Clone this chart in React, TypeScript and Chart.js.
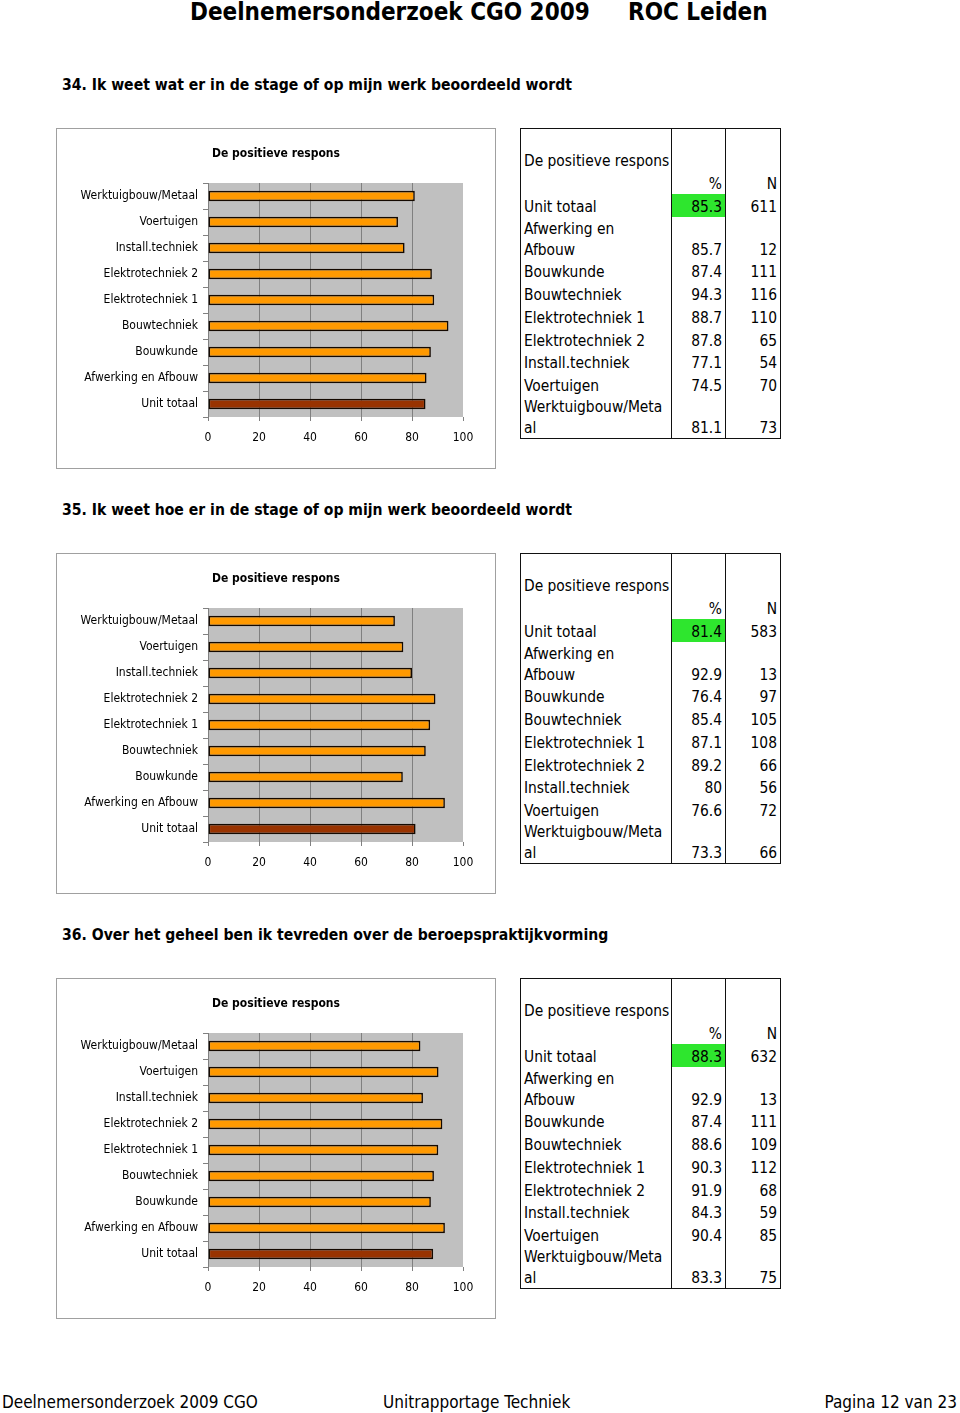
import React, { useEffect, useRef } from "react";
import { Chart, registerables } from "chart.js";

Chart.register(...registerables);

const FONT = '"DejaVu Sans Condensed", "DejaVu Sans", sans-serif';

// Categories in table order (top to bottom)
const categories = [
  "Unit totaal",
  "Afwerking en Afbouw",
  "Bouwkunde",
  "Bouwtechniek",
  "Elektrotechniek 1",
  "Elektrotechniek 2",
  "Install.techniek",
  "Voertuigen",
  "Werktuigbouw/Metaal",
];
const tableLabels = [
  "Unit totaal",
  "Afwerking en\nAfbouw",
  "Bouwkunde",
  "Bouwtechniek",
  "Elektrotechniek 1",
  "Elektrotechniek 2",
  "Install.techniek",
  "Voertuigen",
  "Werktuigbouw/Meta\nal",
];

const q34Pct = [85.3, 85.7, 87.4, 94.3, 88.7, 87.8, 77.1, 74.5, 81.1];
const q34N = [611, 12, 111, 116, 110, 65, 54, 70, 73];
const q35Pct = [81.4, 92.9, 76.4, 85.4, 87.1, 89.2, 80, 76.6, 73.3];
const q35N = [583, 13, 97, 105, 108, 66, 56, 72, 66];
const q36Pct = [88.3, 92.9, 87.4, 88.6, 90.3, 91.9, 84.3, 90.4, 83.3];
const q36N = [632, 13, 111, 109, 112, 68, 59, 85, 75];

const xTicks = [0, 20, 40, 60, 80, 100];
const chartTitle = "De positieve respons";

const sections = [
  { title: "34. Ik weet wat er in de stage of op mijn werk beoordeeld wordt", pct: q34Pct, n: q34N },
  { title: "35. Ik weet hoe er in de stage of op mijn werk beoordeeld wordt", pct: q35Pct, n: q35N },
  { title: "36. Over het geheel ben ik tevreden over de beroepspraktijkvorming", pct: q36Pct, n: q36N },
];

const SECTION_STEP = 425;
const ROW_HEIGHTS = [42, 23, 23, 43, 22, 23, 23, 23, 22, 23, 42];

const plotBg = {
  id: "plotBg",
  beforeDraw(chart: any) {
    const { ctx, chartArea: a } = chart;
    ctx.save();
    ctx.fillStyle = "#c0c0c0";
    ctx.fillRect(a.left, a.top, a.right - a.left, a.bottom - a.top);
    ctx.restore();
  },
};

// Title centred on the whole canvas (the built-in title is centred on the padded box)
const centredTitle = {
  id: "centredTitle",
  afterDraw(chart: any, _args: any, opts: any) {
    const { ctx } = chart;
    ctx.save();
    ctx.font = `bold 12px ${FONT}`;
    ctx.fillStyle = "#000";
    ctx.textAlign = "center";
    ctx.textBaseline = "middle";
    ctx.fillText(opts.text, chart.width / 2, opts.y);
    ctx.restore();
  },
};

function BarChart({ pct }: { pct: number[] }) {
  const ref = useRef<HTMLCanvasElement | null>(null);
  useEffect(() => {
    if (!ref.current) return;
    const labels = [...categories].reverse();
    const data = [...pct].reverse();
    const colors = labels.map((l) => (l === "Unit totaal" ? "#993300" : "#ff9900"));
    const chart = new Chart(ref.current, {
      type: "bar",
      data: {
        labels,
        datasets: [
          {
            data,
            backgroundColor: colors,
            borderColor: "#140900",
            borderWidth: 1.6,
            borderSkipped: false,
            barPercentage: 0.4,
            categoryPercentage: 1,
          },
        ],
      },
      options: {
        indexAxis: "y",
        responsive: false,
        maintainAspectRatio: false,
        animation: false,
        layout: { padding: { left: 0, right: 32, top: 54, bottom: 12.6 } },
        plugins: {
          legend: { display: false },
          tooltip: { enabled: false },
          title: { display: false },
          centredTitle: { text: chartTitle, y: 24.5 },
        },
        scales: {
          x: {
            min: 0,
            max: 100,
            afterBuildTicks(scale: any) {
              scale.ticks = xTicks.map((v) => ({ value: v }));
            },
            ticks: { color: "#000", font: { family: FONT, size: 12 }, padding: 10 },
            grid: {
              color: (c: any) => (c.tick && c.tick.value === 100 ? "rgba(0,0,0,0)" : "#808080"),
              tickColor: "#808080",
              tickLength: 4,
              lineWidth: 1,
            },
            border: { display: false },
          },
          y: {
            afterFit(scale: any) {
              scale.width = 151;
            },
            ticks: { color: "#000", font: { family: FONT, size: 12 }, padding: 5 },
            grid: {
              drawOnChartArea: false,
              color: "#808080",
              tickLength: 5,
              offset: true,
            },
            border: { color: "#808080", width: 1 },
          },
        },
      },
      plugins: [plotBg, centredTitle],
    } as any);
    return () => chart.destroy();
  }, [pct]);
  return <canvas ref={ref} width={438} height={339} style={{ display: "block" }} />;
}

function DataTable({ pct, n }: { pct: number[]; n: number[] }) {
  const cell: React.CSSProperties = {
    verticalAlign: "bottom",
    padding: "0 3px",
    lineHeight: "21px",
    whiteSpace: "pre",
    overflow: "hidden",
  };
  const shift: React.CSSProperties = { position: "relative", top: 1 };
  const rows: { label: string; p: string; nn: string; green?: boolean }[] = [
    { label: chartTitle, p: "", nn: "" },
    { label: "", p: "%", nn: "N" },
    ...tableLabels.map((l, i) => ({ label: l, p: String(pct[i]), nn: String(n[i]), green: i === 0 })),
  ];
  return (
    <table
      style={{
        borderCollapse: "collapse",
        tableLayout: "fixed",
        width: 261,
        fontFamily: FONT,
        fontSize: 15.4,
        color: "#000",
        border: "1.5px solid #111",
      }}
    >
      <colgroup>
        <col style={{ width: 151 }} />
        <col style={{ width: 54 }} />
        <col style={{ width: 55 }} />
      </colgroup>
      <tbody>
        {rows.map((r, i) => (
          <tr key={i} style={{ height: ROW_HEIGHTS[i] }}>
            <td style={{ ...cell, textAlign: "left", borderRight: "1.5px solid #111" }}>
              <span style={shift}>{r.label}</span>
            </td>
            <td
              style={{
                ...cell,
                textAlign: "right",
                borderRight: "1.5px solid #111",
                background: r.green ? "#2ee62e" : "transparent",
              }}
            >
              <span style={shift}>{r.p}</span>
            </td>
            <td style={{ ...cell, textAlign: "right" }}>
              <span style={shift}>{r.nn}</span>
            </td>
          </tr>
        ))}
      </tbody>
    </table>
  );
}

const headerStyle: React.CSSProperties = {
  position: "absolute",
  top: -3,
  fontSize: 24,
  fontWeight: "bold",
  whiteSpace: "pre",
  lineHeight: "30px",
};
const footerStyle: React.CSSProperties = {
  position: "absolute",
  top: 1391,
  fontSize: 17,
  lineHeight: "22px",
  whiteSpace: "pre",
};

export default function App() {
  return (
    <div
      style={{
        position: "absolute",
        left: 0,
        top: 0,
        width: 960,
        height: 1413,
        background: "#fff",
        fontFamily: FONT,
        color: "#000",
        overflow: "hidden",
      }}
    >
      <div style={{ ...headerStyle, left: 190 }}>Deelnemersonderzoek CGO 2009</div>
      <div style={{ ...headerStyle, left: 628 }}>ROC Leiden</div>
      {sections.map((s, i) => {
        const off = i * SECTION_STEP;
        return (
          <React.Fragment key={i}>
            <div
              style={{
                position: "absolute",
                left: 62,
                top: 74 + off,
                fontSize: 15.6,
                fontWeight: "bold",
                whiteSpace: "pre",
                lineHeight: "22px",
              }}
            >
              {s.title}
            </div>
            <div
              style={{
                position: "absolute",
                left: 56,
                top: 128 + off,
                width: 438,
                height: 339,
                border: "1px solid #a0a0a0",
              }}
            >
              <BarChart pct={s.pct} />
            </div>
            <div style={{ position: "absolute", left: 520, top: 128 + off }}>
              <DataTable pct={s.pct} n={s.n} />
            </div>
          </React.Fragment>
        );
      })}
      <div style={{ ...footerStyle, left: 2 }}>Deelnemersonderzoek 2009 CGO</div>
      <div style={{ ...footerStyle, left: 383 }}>Unitrapportage Techniek</div>
      <div style={{ ...footerStyle, right: 3 }}>Pagina 12 van 23</div>
    </div>
  );
}
